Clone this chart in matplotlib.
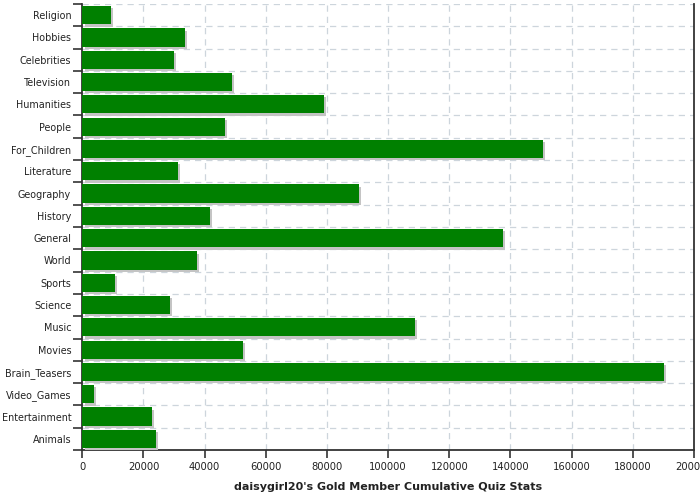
import numpy as np
import matplotlib
matplotlib.use("Agg")
import matplotlib.pyplot as plt
import matplotlib.patheffects as pe

# --- data ---
categories = ["Religion", "Hobbies", "Celebrities", "Television", "Humanities",
              "People", "For_Children", "Literature", "Geography", "History",
              "General", "World", "Sports", "Science", "Music", "Movies",
              "Brain_Teasers", "Video_Games", "Entertainment", "Animals"]
scores = [9400, 33600, 30000, 48900, 79000,
          46700, 150600, 31300, 90400, 41700,
          137500, 37500, 10700, 28700, 108700, 52500,
          190100, 3800, 22800, 24100]
x_ticks = np.arange(0, 200001, 20000)
title = "daisygirl20's Gold Member Cumulative Quiz Stats"

fig = plt.figure(figsize=(7, 5), dpi=100)
ax = fig.add_axes([0.1176, 0.1, 0.8738, 0.892])

pos = np.arange(len(categories))
bars = ax.barh(pos, scores, height=0.82, color="#008000", zorder=3)
for b in bars:
    b.set_path_effects([pe.SimplePatchShadow(offset=(1.6, -1.6), shadow_rgbFace="#c4c4c4", alpha=1.0),
                        pe.Normal()])

ax.set_xlim(0, 200000)
ax.set_ylim(len(categories) - 0.5, -0.5)

# category boundaries as major ticks (grid + tick marks), names on minor ticks
ax.set_yticks(np.arange(len(categories) + 1) - 0.5)
ax.set_yticklabels([])
ax.set_yticks(pos, minor=True)
ax.set_yticklabels(categories, minor=True, fontsize=6.9, color="#222222")
ax.tick_params(axis="y", which="major", length=6.5, width=1.2, color="#333333")
ax.tick_params(axis="y", which="minor", length=0, pad=8)

ax.set_xticks(x_ticks)
ax.set_xticklabels([str(v) for v in x_ticks], fontsize=7.2, color="#222222")
ax.tick_params(axis="x", length=6, width=1.2, color="#333333", pad=3)

ax.grid(True, which="major", linestyle=(0, (5, 4)), color="#cdd5dc", linewidth=0.9, zorder=0)

for s in ["left", "bottom", "right"]:
    ax.spines[s].set_color("#333333")
    ax.spines[s].set_linewidth(1.3)
ax.spines["top"].set_visible(False)

ax.set_xlabel(title, fontsize=8, fontweight="bold", color="#222222", labelpad=7)

fig.savefig("out.png", dpi=100)
